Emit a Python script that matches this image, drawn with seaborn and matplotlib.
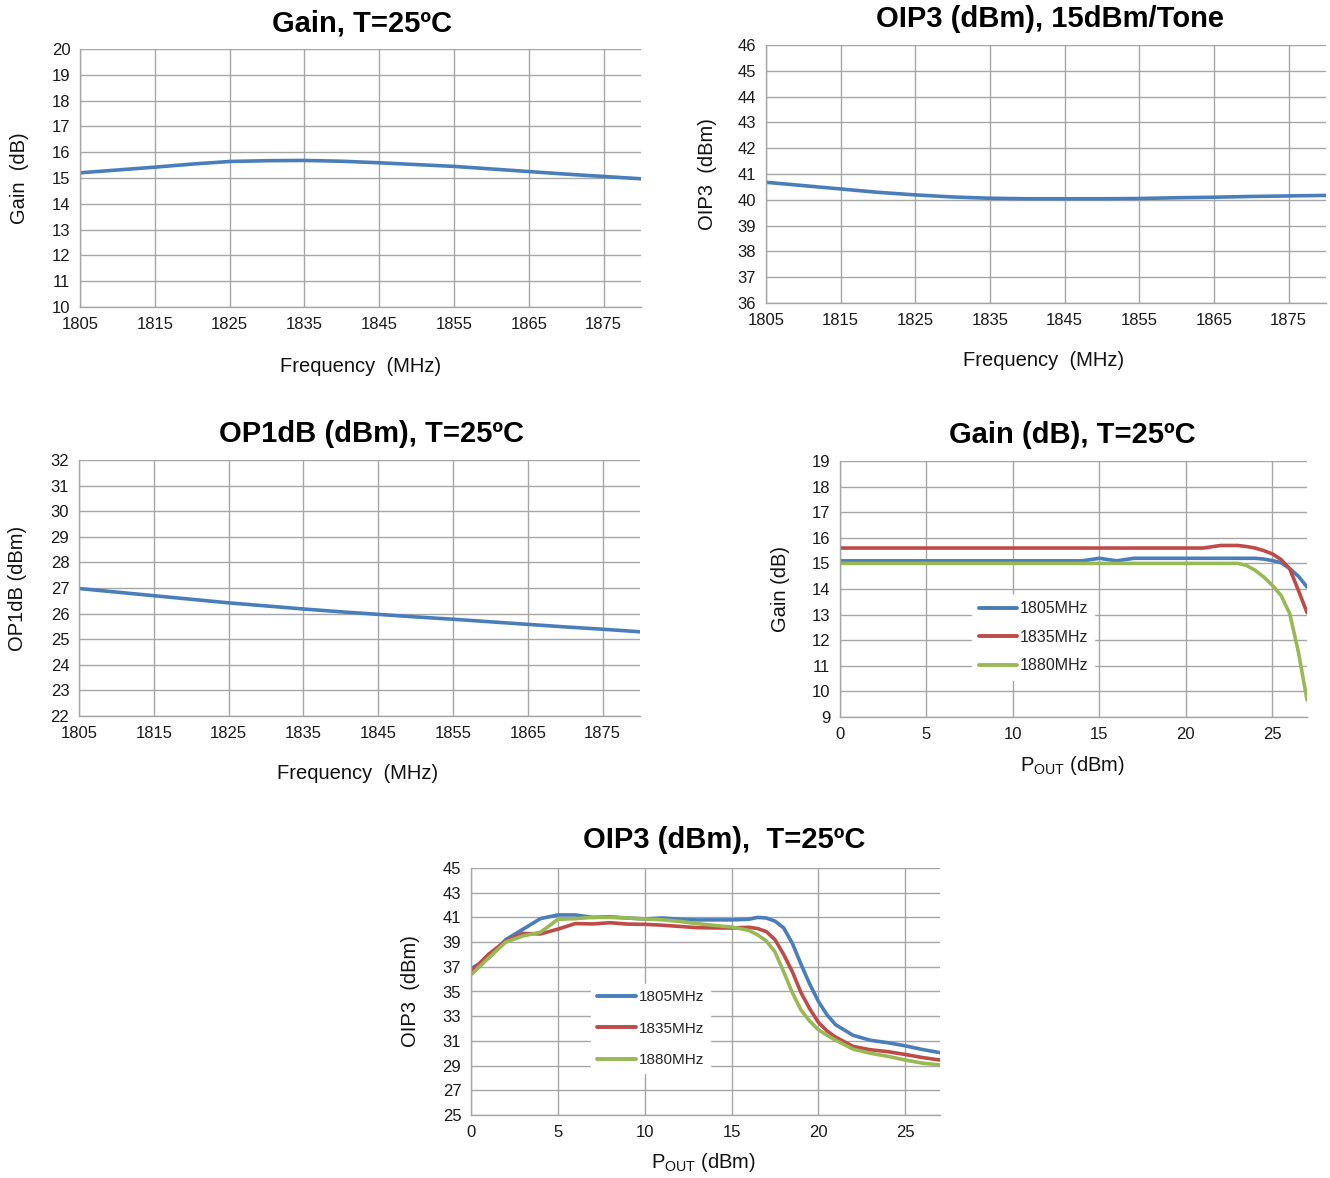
import matplotlib
matplotlib.use("Agg")
import matplotlib.pyplot as plt
import seaborn as sns
import pandas as pd

# ---------------- data ----------------
freq_mhz = [1805, 1810, 1815, 1820, 1825, 1830, 1835, 1840, 1845, 1850,
            1855, 1860, 1865, 1870, 1875, 1880]
gain_vs_freq = [15.20, 15.31, 15.42, 15.54, 15.64, 15.67, 15.68, 15.65, 15.59,
                15.52, 15.45, 15.35, 15.25, 15.15, 15.06, 14.97]
oip3_vs_freq = [40.68, 40.55, 40.42, 40.29, 40.19, 40.11, 40.06, 40.04, 40.04,
                40.04, 40.05, 40.08, 40.10, 40.13, 40.15, 40.17]
op1db_vs_freq = [26.98, 26.84, 26.70, 26.56, 26.42, 26.30, 26.18, 26.07, 25.97,
                 25.87, 25.78, 25.68, 25.58, 25.48, 25.39, 25.29]

series_names = ["1805MHz", "1835MHz", "1880MHz"]

gain_pout = [0, 1, 2, 3, 4, 5, 6, 7, 8, 9, 10, 11, 12, 13, 14, 15, 16, 17, 18,
             19, 20, 21, 22, 23, 23.5, 24, 24.5, 25, 25.5, 26, 26.5, 27]
gain_1805 = [15.10, 15.10, 15.10, 15.10, 15.10, 15.10, 15.10, 15.10, 15.10, 15.10,
             15.10, 15.10, 15.10, 15.10, 15.10, 15.20, 15.10, 15.20, 15.20, 15.20,
             15.20, 15.20, 15.20, 15.20, 15.20, 15.20, 15.17, 15.11, 15.03, 14.80,
             14.50, 14.08]
gain_1835 = [15.60, 15.60, 15.60, 15.60, 15.60, 15.60, 15.60, 15.60, 15.60, 15.60,
             15.60, 15.60, 15.60, 15.60, 15.60, 15.60, 15.60, 15.60, 15.60, 15.60,
             15.60, 15.60, 15.70, 15.70, 15.66, 15.60, 15.50, 15.37, 15.15, 14.79,
             13.95, 13.08]
gain_1880 = [15.00, 15.00, 15.00, 15.00, 15.00, 15.00, 15.00, 15.00, 15.00, 15.00,
             15.00, 15.00, 15.00, 15.00, 15.00, 15.00, 15.00, 15.00, 15.00, 15.00,
             15.00, 15.00, 15.00, 15.00, 14.92, 14.73, 14.47, 14.14, 13.75, 13.04,
             11.55, 9.67]

oip3_pout = [0, 1, 2, 3, 4, 5, 6, 7, 8, 9, 10, 11, 12, 13, 14, 15, 16, 16.5, 17,
             17.5, 18, 18.5, 19, 19.5, 20, 20.5, 21, 22, 23, 24, 25, 26, 27]
oip3_1805 = [36.84, 37.70, 39.20, 40.05, 40.90, 41.20, 41.20, 41.00, 41.05, 40.95,
             40.87, 40.95, 40.85, 40.80, 40.80, 40.80, 40.85, 41.00, 40.95, 40.70,
             40.15, 38.90, 37.20, 35.60, 34.20, 33.10, 32.30, 31.45, 31.05, 30.85,
             30.60, 30.30, 30.05]
oip3_1835 = [36.60, 38.00, 39.10, 39.70, 39.66, 40.05, 40.50, 40.47, 40.57, 40.46,
             40.44, 40.37, 40.27, 40.17, 40.15, 40.14, 40.20, 40.10, 39.85, 39.20,
             38.00, 36.60, 34.90, 33.60, 32.50, 31.80, 31.30, 30.55, 30.28, 30.13,
             29.90, 29.65, 29.45]
oip3_1880 = [36.35, 37.70, 39.00, 39.50, 39.80, 40.84, 40.90, 41.00, 41.00, 40.95,
             40.88, 40.80, 40.68, 40.50, 40.35, 40.22, 39.95, 39.58, 39.10, 38.20,
             36.60, 34.90, 33.50, 32.60, 31.90, 31.45, 31.05, 30.33, 30.00, 29.75,
             29.45, 29.20, 29.05]

freq_ticks = [1805, 1815, 1825, 1835, 1845, 1855, 1865, 1875]
pout_ticks = [0, 5, 10, 15, 20, 25]

# ---------------- style ----------------
sns.set_style("white")
plt.rcParams["font.family"] = ["Liberation Sans", "DejaVu Sans"]

BLUE = "#4A7EBB"
RED = "#BE4B48"
GREEN = "#98B954"
GRID = "#A6A6A6"
LW = 2.6
TITLE_FS = 21
TICK_FS = 12
LABEL_FS = 14.5

W, H = 1330, 1178
fig = plt.figure(figsize=(W / 100, H / 100), dpi=100)
fig.patch.set_facecolor("white")


def make_ax(left, right, top, bottom):
    return fig.add_axes([left / W, 1 - bottom / H, (right - left) / W, (bottom - top) / H])


def style_ax(ax, xlim, ylim, xticks, yticks, title, tpos, xlabel, xlpos, ylabel, ylx):
    ax.set_xlim(*xlim)
    ax.set_ylim(*ylim)
    ax.set_xticks(xticks)
    ax.set_yticks(yticks)
    ax.grid(True, color=GRID, linewidth=1.0)
    ax.set_axisbelow(True)
    for s in ["top", "right"]:
        ax.spines[s].set_visible(False)
    for s in ["left", "bottom"]:
        ax.spines[s].set_color(GRID)
        ax.spines[s].set_linewidth(1.0)
    ax.tick_params(axis="both", which="major", direction="out", length=4,
                   width=1.0, color=GRID, labelsize=TICK_FS, labelcolor="#1a1a1a", pad=3)
    ax.text(tpos[0], tpos[1], title, transform=ax.transAxes, ha="center",
            va="center", fontsize=TITLE_FS, fontweight="bold", color="black")
    ax.set_xlabel(xlabel, fontsize=LABEL_FS, color="#111111")
    ax.xaxis.set_label_coords(xlpos[0], xlpos[1])
    ax.xaxis.label.set_va("center")
    ax.set_ylabel(ylabel, fontsize=LABEL_FS, color="#111111")
    ax.yaxis.set_label_coords(ylx, 0.5)
    ax.yaxis.label.set_va("center")


# ---- chart 1: Gain vs frequency ----
ax1 = make_ax(80, 641, 49, 307)
sns.lineplot(x=freq_mhz, y=gain_vs_freq, ax=ax1, color=BLUE, linewidth=LW)
style_ax(ax1, (1805, 1880), (10, 20), freq_ticks, list(range(10, 21)),
         "Gain, T=25ºC", (0.503, 1.10), "Frequency  (MHz)", (0.5, -0.229),
         "Gain  (dB)", -0.107)

# ---- chart 2: OIP3 vs frequency ----
ax2 = make_ax(766, 1326, 45, 303)
sns.lineplot(x=freq_mhz, y=oip3_vs_freq, ax=ax2, color=BLUE, linewidth=LW)
style_ax(ax2, (1805, 1880), (36, 46), freq_ticks, list(range(36, 47)),
         "OIP3 (dBm), 15dBm/Tone", (0.507, 1.10), "Frequency  (MHz)", (0.495, -0.221),
         "OIP3  (dBm)", -0.105)

# ---- chart 3: OP1dB vs frequency ----
ax3 = make_ax(79, 640, 460, 716)
sns.lineplot(x=freq_mhz, y=op1db_vs_freq, ax=ax3, color=BLUE, linewidth=LW)
style_ax(ax3, (1805, 1880), (22, 32), freq_ticks, list(range(22, 33)),
         "OP1dB (dBm), T=25ºC", (0.522, 1.10), "Frequency  (MHz)", (0.497, -0.223),
         "OP1dB (dBm)", -0.109)

# ---- chart 4: Gain vs Pout ----
ax4 = make_ax(840, 1307, 461, 717)
df_gain = pd.DataFrame({
    "pout": gain_pout * 3,
    "val": gain_1805 + gain_1835 + gain_1880,
    "freq": [series_names[0]] * len(gain_pout) + [series_names[1]] * len(gain_pout)
            + [series_names[2]] * len(gain_pout),
})
sns.lineplot(data=df_gain, x="pout", y="val", hue="freq", hue_order=series_names,
             palette=[BLUE, RED, GREEN], linewidth=LW, ax=ax4, legend=True)
style_ax(ax4, (0, 27), (9, 19), pout_ticks, list(range(9, 20)),
         "Gain (dB), T=25ºC", (0.497, 1.10), r"P$_\mathregular{OUT}$ (dBm)", (0.497, -0.191),
         "Gain (dB)", -0.128)
h, l = ax4.get_legend_handles_labels()
leg4 = ax4.legend(h, l, loc="upper left", bbox_to_anchor=(0.283, 0.477), frameon=True,
                  facecolor="white", edgecolor="white", framealpha=1, fontsize=11.5,
                  handlelength=2.4, handletextpad=0.15, labelspacing=0.85,
                  borderpad=0.4, borderaxespad=0)
for ln in leg4.get_lines():
    ln.set_linewidth(2.8)

# ---- chart 5: OIP3 vs Pout ----
ax5 = make_ax(471, 940, 868, 1115)
df_oip3 = pd.DataFrame({
    "pout": oip3_pout * 3,
    "val": oip3_1805 + oip3_1835 + oip3_1880,
    "freq": [series_names[0]] * len(oip3_pout) + [series_names[1]] * len(oip3_pout)
            + [series_names[2]] * len(oip3_pout),
})
sns.lineplot(data=df_oip3, x="pout", y="val", hue="freq", hue_order=series_names,
             palette=[BLUE, RED, GREEN], linewidth=LW, ax=ax5, legend=True)
style_ax(ax5, (0, 27), (25, 45), pout_ticks, list(range(25, 46, 2)),
         "OIP3 (dBm),  T=25ºC", (0.54, 1.113), r"P$_\mathregular{OUT}$ (dBm)", (0.495, -0.194),
         "OIP3  (dBm)", -0.128)
h, l = ax5.get_legend_handles_labels()
leg5 = ax5.legend(h, l, loc="upper left", bbox_to_anchor=(0.255, 0.53), frameon=True,
                  facecolor="white", edgecolor="white", framealpha=1, fontsize=11,
                  handlelength=2.6, handletextpad=0.15, labelspacing=1.15,
                  borderpad=0.4, borderaxespad=0)
for ln in leg5.get_lines():
    ln.set_linewidth(2.8)

fig.savefig("out.png", dpi=100, facecolor="white")
